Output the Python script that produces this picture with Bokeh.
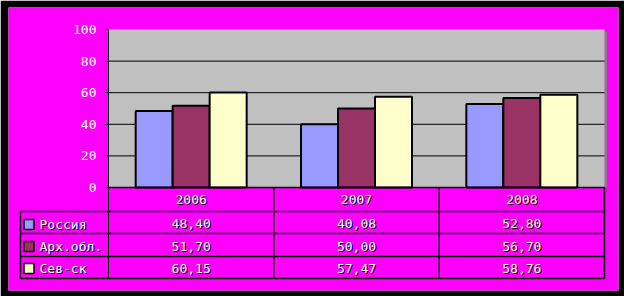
import numpy as np
from bokeh.plotting import figure
from bokeh.models import Range1d, LinearAxis, FixedTicker
from bokeh.core.properties import value
from bokeh.embed import file_html
from bokeh.resources import INLINE

# ---- data ----
years = ["2006", "2007", "2008"]
series_names = ["Россия", "Арх.обл.", "Сев-ск"]
russia = [48.40, 40.08, 52.80]
arkh = [51.70, 50.00, 56.70]
sevsk = [60.15, 57.47, 58.76]
y_ticks = [0, 20, 40, 60, 80, 100]

series = [russia, arkh, sevsk]
colors = ["#9999FF", "#993366", "#FFFFCC"]

# ---- layout geometry (pixels of the 624x296 page) ----
W, H = 624, 296
FL, FR, FT, FB = 8, 618, 7, 290          # magenta area
PX0, PX1 = 108, 604                        # plot area x
PY0, PY100 = 187, 29                       # plot area y for 0 and 100
cat_px = (PX1 - PX0) / 3.0
ypx = (PY0 - PY100) / 100.0

def dx(px):
    return (px - PX0) / cat_px

def dy(py):
    return (PY0 - py) / ypx

p = figure(width=W, height=H, output_backend="svg", toolbar_location=None,
           x_range=Range1d(dx(FL), dx(FR)), y_range=Range1d(dy(FB), dy(FT)),
           min_border_left=FL, min_border_right=W - FR,
           min_border_top=FT, min_border_bottom=H - FB,
           border_fill_color="black", background_fill_color="#FF00FF",
           outline_line_color=None)
p.xaxis.visible = False
p.yaxis.visible = False
p.grid.visible = False

font = value("DejaVu Sans Mono")
FS = "13px"

# plot area background with shadow
p.quad(left=[dx(PX1)], right=[dx(PX1 + 2.5)], bottom=[dy(PY0)], top=[dy(PY100 + 2)],
       fill_color="#808080", line_color=None)
p.quad(left=[0], right=[3], bottom=[0], top=[100], fill_color="#C0C0C0", line_color=None)

# gridlines
gl = [t for t in y_ticks if 0 < t < 100]
p.segment(x0=[0] * len(gl), x1=[3] * len(gl), y0=gl, y1=gl, line_color="black", line_width=1)

# bars
width = 37 / cat_px
offsets = [-width, 0, width]
cx = np.arange(len(years)) + 0.5
for vals, col, off in zip(series, colors, offsets):
    p.vbar(x=cx + off, top=vals, bottom=0, width=width, fill_color=col,
           line_color="black", line_width=2)

# y axis at x=0
ax = LinearAxis(fixed_location=0, ticker=FixedTicker(ticks=y_ticks),
                bounds=(dy(278), 100),
                axis_line_color="black", axis_line_width=1,
                major_tick_in=0, major_tick_out=4, minor_tick_line_color=None,
                major_tick_line_color="black",
                major_label_text_font="DejaVu Sans Mono",
                major_label_text_font_size=FS,
                major_label_text_color="white",
                major_label_standoff=8)
p.add_layout(ax, "left")

# table lines
rows_px = [211, 233, 256, 278]
p.segment(x0=[0], x1=[3], y0=[0], y1=[0], line_color="black", line_width=1.5)
p.segment(x0=[dx(20)] * 4, x1=[3] * 4, y0=[dy(r) for r in rows_px],
          y1=[dy(r) for r in rows_px], line_color="black", line_width=1.5)
vx = [1, 2, 3]
p.segment(x0=vx, x1=vx, y0=[0] * 3, y1=[dy(278)] * 3, line_color="black", line_width=1.5)
p.segment(x0=[dx(20)], x1=[dx(20)], y0=[dy(211)], y1=[dy(278)], line_color="black", line_width=1.5)

# table text
def shadow_text(x, y, t, align):
    p.text(x=x, y=y, text=t, text_font=font, text_font_size=FS, text_color="black",
           text_align=align, text_baseline="middle", x_offset=1, y_offset=1)
    p.text(x=x, y=y, text=t, text_font=font, text_font_size=FS, text_color="white",
           text_align=align, text_baseline="middle")

shadow_text(list(cx), [dy(199)] * 3, years, "center")
row_c = [223, 245.5, 268]
for vals, rc in zip(series, row_c):
    labels = [f"{v:.2f}".replace(".", ",") for v in vals]
    shadow_text(list(cx), [dy(rc)] * 3, labels, "center")

key_c = [224, 246, 268]
p.scatter(x=[dx(28.5)] * 3, y=[dy(k) for k in key_c], marker="square", size=10,
          fill_color=colors, line_color="black", line_width=1.5)
shadow_text([dx(39)] * 3, [dy(k) for k in key_c], series_names, "left")

open("out.html", "w").write(file_html(p, INLINE))
